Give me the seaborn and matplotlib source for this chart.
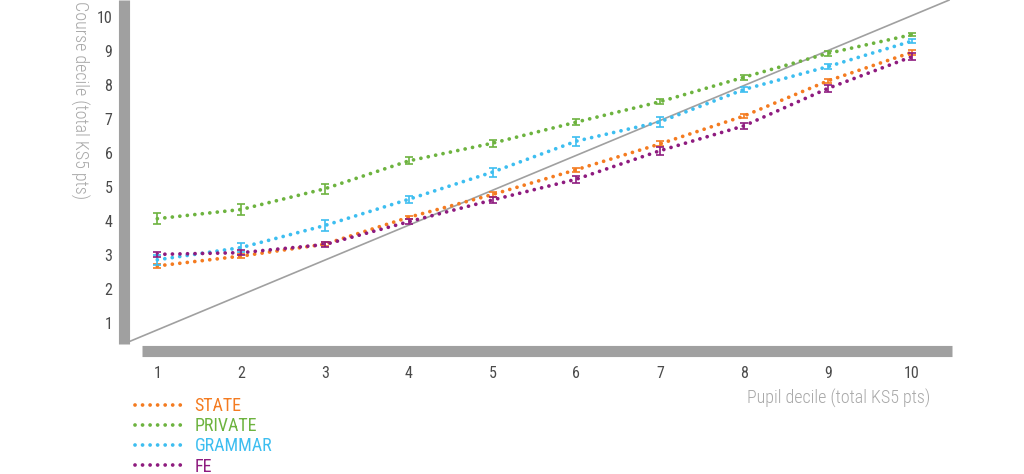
import numpy as np
import pandas as pd
import matplotlib
matplotlib.use("Agg")
import matplotlib.pyplot as plt
from matplotlib import font_manager
from matplotlib.lines import Line2D
import seaborn as sns

# ---------------- data ----------------
deciles = [1, 2, 3, 4, 5, 6, 7, 8, 9, 10]
series_names = ["STATE", "PRIVATE", "GRAMMAR", "FE"]
state = [2.67, 2.96, 3.31, 4.10, 4.77, 5.50, 6.26, 7.08, 8.11, 8.95]
private = [4.06, 4.33, 4.94, 5.76, 6.28, 6.90, 7.50, 8.22, 8.92, 9.47]
grammar = [2.85, 3.21, 3.86, 4.63, 5.43, 6.34, 6.91, 7.86, 8.53, 9.28]
fe = [3.01, 3.06, 3.30, 3.97, 4.61, 5.22, 6.06, 6.79, 7.89, 8.82]
state_err = [0.06, 0.06, 0.05, 0.05, 0.06, 0.06, 0.07, 0.07, 0.07, 0.07]
private_err = [0.16, 0.15, 0.14, 0.10, 0.10, 0.08, 0.08, 0.07, 0.08, 0.05]
grammar_err = [0.15, 0.12, 0.16, 0.10, 0.13, 0.13, 0.14, 0.07, 0.08, 0.06]
fe_err = [0.08, 0.08, 0.06, 0.08, 0.08, 0.10, 0.12, 0.09, 0.11, 0.10]
diag_x = [0.66, 10.45]
diag_y = [0.44, 10.49]
x_ticks = [1, 2, 3, 4, 5, 6, 7, 8, 9, 10]
y_ticks = [1, 2, 3, 4, 5, 6, 7, 8, 9, 10]
x_label = "Pupil decile (total KS5 pts)"
y_label = "Course decile (total KS5 pts)"

colors = {"STATE": "#F47B20", "PRIVATE": "#6DB33F",
          "GRAMMAR": "#3DBEF0", "FE": "#8E1B7F"}
values = {"STATE": state, "PRIVATE": private, "GRAMMAR": grammar, "FE": fe}
errors = {"STATE": state_err, "PRIVATE": private_err,
          "GRAMMAR": grammar_err, "FE": fe_err}

df = pd.concat([
    pd.DataFrame({"decile": deciles, "value": values[n], "err": errors[n], "school": n})
    for n in series_names
], ignore_index=True)

# ---------------- style ----------------
sns.set_style("white")
avail = {f.name for f in font_manager.fontManager.ttflist}
fam = None
for cand in ["Roboto Condensed", "Liberation Sans Narrow", "Open Sans Condensed", "Roboto", "Lato", "DejaVu Sans"]:
    if cand in avail:
        fam = cand
        break
plt.rcParams["font.family"] = [fam, "DejaVu Sans"]

W, H = 1024, 474
fig = plt.figure(figsize=(W / 100, H / 100), dpi=100)

def px(x0, y0, x1, y1):
    return [x0 / W, 1 - y1 / H, (x1 - x0) / W, (y1 - y0) / H]

ax = fig.add_axes(px(142, 0, 952, 344))
ax.set_xlim(0.817, 10.483)
ax.set_ylim(0.374, 10.491)

grey = "#A0A0A0"
dot_style = (0, (0.01, 2.0))

# diagonal reference line
ax.plot(diag_x, diag_y, color=grey, lw=1.2, clip_on=False, zorder=1)

for n in series_names:
    sub = df[df.school == n]
    sns.lineplot(data=sub, x="decile", y="value", ax=ax, color=colors[n],
                 linewidth=2.7, linestyle=dot_style, dash_capstyle="round",
                 errorbar=None, legend=False, zorder=3)
    ax.errorbar(sub["decile"], sub["value"], yerr=sub["err"], fmt="none",
                ecolor=colors[n], elinewidth=1.2, capsize=2.8, capthick=1.2,
                zorder=4)

# thick bar axes
for s in ["top", "right"]:
    ax.spines[s].set_visible(False)
ax.spines["left"].set_position(("outward", 13.3))
ax.spines["left"].set_linewidth(8.0)
ax.spines["left"].set_color(grey)
ax.spines["left"].set_capstyle("butt")
ax.spines["bottom"].set_position(("outward", 4.7))
ax.spines["bottom"].set_linewidth(8.0)
ax.spines["bottom"].set_color(grey)
ax.spines["bottom"].set_capstyle("butt")

ax.set_xticks(x_ticks)
ax.set_yticks(y_ticks)
ax.set_xticklabels([str(v) for v in x_ticks])
ax.set_yticklabels([str(v) for v in y_ticks])
ax.tick_params(axis="both", length=0, labelsize=11.5, labelcolor="#4A4A4A")
ax.tick_params(axis="y", pad=8)
ax.tick_params(axis="x", pad=11)
ax.set_xlabel("")
ax.set_ylabel("")

fig.text(930 / W, 1 - 398 / H, x_label, ha="right", va="center",
         fontsize=13, color="#A8A8A8", fontweight="light")
fig.text(80 / W, 1 - 1 / H, y_label, ha="center", va="top", rotation=-90,
         fontsize=13, color="#A8A8A8", fontweight="light")

handles = [Line2D([0], [0], color=colors[n], lw=2.7, linestyle=dot_style,
                  dash_capstyle="round") for n in series_names]
leg = fig.legend(handles, series_names, loc="upper left",
                 bbox_to_anchor=(135 / W, 1 - 397 / H),
                 frameon=False, fontsize=13, handlelength=2.7,
                 handletextpad=0.6, labelspacing=0.12, borderpad=0,
                 borderaxespad=0)
for txt, n in zip(leg.get_texts(), series_names):
    txt.set_color(colors[n])

fig.savefig("out.png", dpi=100)
